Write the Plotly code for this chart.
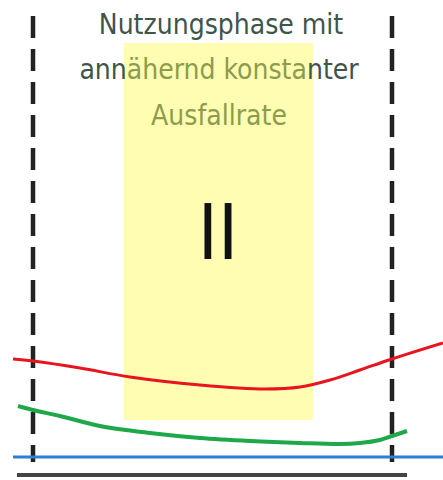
import plotly.graph_objects as go

# --- data (pixel-space coordinates of the schematic) ---
red_x = [13, 33, 80, 130, 200, 265, 300, 330, 360, 392, 443]
red_y = [359, 361, 368, 377, 385, 389, 387, 380, 370, 359, 343]
green_x = [18, 33, 60, 100, 150, 200, 250, 300, 340, 360, 380, 392, 407]
green_y = [406, 410, 416, 426, 433, 438, 441, 443, 444, 443, 440, 436, 431]
blue_x = [13, 443]
blue_y = [457, 457]
base_x = [17, 407]
base_y = [475, 475]
dash_left_x = [33, 33]
dash_right_x = [392, 392]
dash_y = [16, 462]
phase_x0, phase_x1, phase_y0, phase_y1 = 124, 313, 43, 420

DARK = "#3d554c"
OLIVE = "#8c9c4c"
title_lines = [
    "Nutzungsphase mit",
    f"ann<span style='color:{OLIVE}'>ähernd konsta</span>nter",
    f"<span style='color:{OLIVE}'>Ausfallrate</span>",
]
title_x = [221, 219, 219]
title_y = [27, 72, 118]
roman_label = "II"

FONT = "DejaVu Sans Condensed, sans-serif"

fig = go.Figure()

fig.add_shape(type="rect", x0=phase_x0, x1=phase_x1, y0=phase_y0, y1=phase_y1,
              fillcolor="#fffdb2", line_width=0, layer="below")

fig.add_trace(go.Scatter(x=dash_left_x, y=dash_y, mode="lines",
                         line=dict(color="#222222", width=4.5, dash="22px,11px")))
fig.add_trace(go.Scatter(x=dash_right_x, y=dash_y, mode="lines",
                         line=dict(color="#222222", width=4.5, dash="22px,11px")))
fig.add_trace(go.Scatter(x=base_x, y=base_y, mode="lines",
                         line=dict(color="#444444", width=4)))
fig.add_trace(go.Scatter(x=blue_x, y=blue_y, mode="lines",
                         line=dict(color="#2b7fd4", width=3)))
fig.add_trace(go.Scatter(x=green_x, y=green_y, mode="lines", line_shape="spline",
                         line=dict(color="#1fa84a", width=4)))
fig.add_trace(go.Scatter(x=red_x, y=red_y, mode="lines", line_shape="spline",
                         line=dict(color="#e8141e", width=3)))

fig.add_trace(go.Scatter(x=title_x, y=title_y, mode="text", text=title_lines,
                         textposition="middle center",
                         textfont=dict(family=FONT, size=28, color=DARK)))
fig.add_trace(go.Scatter(x=[218], y=[240], mode="text", text=[roman_label],
                         textposition="middle center",
                         textfont=dict(family=FONT, size=76, color="#111111")))

fig.update_layout(
    width=443, height=480, margin=dict(l=0, r=0, t=0, b=0),
    paper_bgcolor="white", plot_bgcolor="white", showlegend=False,
    xaxis=dict(range=[0, 443], visible=False, fixedrange=True),
    yaxis=dict(range=[480, 0], visible=False, fixedrange=True),
)
fig.write_html("out.html", config={"displayModeBar": False},
               post_script="document.body.style.margin='0px';")
